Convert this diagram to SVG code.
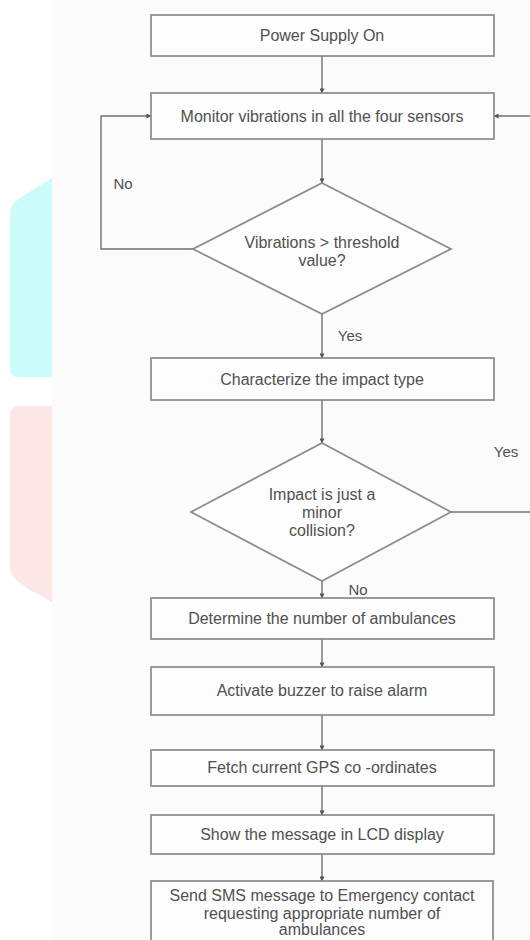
<svg xmlns="http://www.w3.org/2000/svg" width="530" height="940" viewBox="0 0 530 940">
<defs>
<marker id="ah" viewBox="0 0 6 6" refX="5.5" refY="3" markerWidth="5" markerHeight="5" orient="auto" markerUnits="userSpaceOnUse">
<path d="M0,0 L6,3 L0,6 z" fill="#555"/>
</marker>
<style>
.box{fill:#fdfdfd;stroke:#8a8a8a;stroke-width:1.7}
.t{font-family:"Liberation Sans",Arial,sans-serif;font-size:16px;fill:#505050;text-anchor:middle;dominant-baseline:central}
.lbl{font-family:"Liberation Sans",Arial,sans-serif;font-size:15px;fill:#505050;text-anchor:middle;dominant-baseline:central}
.c{fill:none;stroke:#707070;stroke-width:1.4}
</style>
</defs>
<rect x="0" y="0" width="530" height="940" fill="#ffffff"/>
<path d="M10,212 Q10,205 20,198 L52,178 L52,377 L18,377 Q10,377 10,368 z" fill="#cbfbfb"/>
<path d="M10,415 Q10,406 20,406 L52,406 L52,602 L30,590 Q10,578 10,568 z" fill="#fce6e6"/>
<rect x="52" y="0" width="478" height="940" fill="#fbfbfb"/>
<g id="connectors">
<line class="c" x1="322" y1="56" x2="322" y2="93" marker-end="url(#ah)"/>
<line class="c" x1="322" y1="139" x2="322" y2="183" marker-end="url(#ah)"/>
<polyline class="c" points="193,249 101,249 101,116 151,116" marker-end="url(#ah)"/>
<line class="c" x1="530" y1="116" x2="494" y2="116" marker-end="url(#ah)"/>
<line class="c" x1="322" y1="314" x2="322" y2="358" marker-end="url(#ah)"/>
<line class="c" x1="322" y1="400" x2="322" y2="443" marker-end="url(#ah)"/>
<line class="c" x1="451" y1="512" x2="530" y2="512"/>
<line class="c" x1="322" y1="581" x2="322" y2="598" marker-end="url(#ah)"/>
<line class="c" x1="322" y1="639" x2="322" y2="667" marker-end="url(#ah)"/>
<line class="c" x1="322" y1="715" x2="322" y2="750" marker-end="url(#ah)"/>
<line class="c" x1="322" y1="786" x2="322" y2="815" marker-end="url(#ah)"/>
<line class="c" x1="322" y1="854" x2="322" y2="881" marker-end="url(#ah)"/>
<text class="lbl" x="123" y="183">No</text>
<text class="lbl" x="350" y="335">Yes</text>
<text class="lbl" x="506" y="451">Yes</text>
<text class="lbl" x="358" y="589">No</text>
</g>
<g id="power">
<rect class="box" x="151" y="15" width="343" height="41"/>
<text class="t" x="322" y="35.5">Power Supply On</text>
</g>
<g id="monitor">
<rect class="box" x="151" y="93" width="343" height="46"/>
<text class="t" x="322" y="116">Monitor vibrations in all the four sensors</text>
</g>
<g id="decision1">
<polygon class="box" points="322,183 451,249 322,314 193,249"/>
<text class="t" x="322" y="242">Vibrations &gt; threshold</text>
<text class="t" x="322" y="260">value?</text>
</g>
<g id="characterize">
<rect class="box" x="151" y="358" width="343" height="42"/>
<text class="t" x="322" y="379">Characterize the impact type</text>
</g>
<g id="decision2">
<polygon class="box" points="322,443 451,512 322,581 191,512"/>
<text class="t" x="322" y="494">Impact is just a</text>
<text class="t" x="322" y="512">minor</text>
<text class="t" x="322" y="530">collision?</text>
</g>
<g id="determine">
<rect class="box" x="151" y="598" width="343" height="41"/>
<text class="t" x="322" y="618">Determine the number of ambulances</text>
</g>
<g id="buzzer">
<rect class="box" x="151" y="667" width="343" height="48"/>
<text class="t" x="322" y="690">Activate buzzer to raise alarm</text>
</g>
<g id="gps">
<rect class="box" x="151" y="750" width="343" height="36"/>
<text class="t" x="322" y="767">Fetch current GPS co -ordinates</text>
</g>
<g id="lcd">
<rect class="box" x="151" y="815" width="343" height="39"/>
<text class="t" x="322" y="834">Show the message in LCD display</text>
</g>
<g id="sms">
<rect class="box" x="151" y="881" width="342" height="70"/>
<text class="t" x="322" y="895">Send SMS message to Emergency contact</text>
<text class="t" x="322" y="913">requesting appropriate number of</text>
<text class="t" x="322" y="929">ambulances</text>
</g>
</svg>
